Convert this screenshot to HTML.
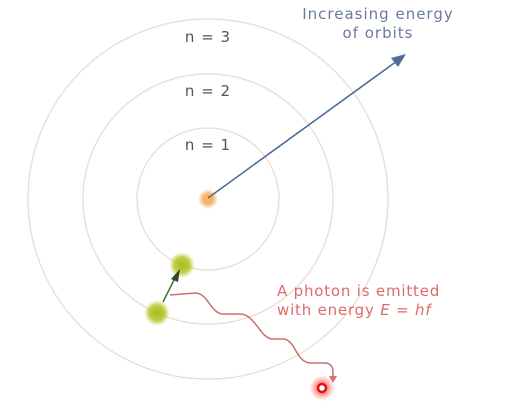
<!DOCTYPE html>
<html><head><meta charset="utf-8"><style>
body{margin:0;background:#fff;width:519px;height:418px;overflow:hidden}
svg{display:block;font-family:"DejaVu Sans","Liberation Sans",sans-serif}
</style></head><body>
<svg width="519" height="418" viewBox="0 0 519 418">
<defs>
<radialGradient id="gn"><stop offset="0" stop-color="#fbb86a"/><stop offset="0.5" stop-color="#f7a14b" stop-opacity="0.8"/><stop offset="1" stop-color="#f7a14b" stop-opacity="0"/></radialGradient>
<radialGradient id="ge"><stop offset="0" stop-color="#a8b81e"/><stop offset="0.6" stop-color="#b5c52a" stop-opacity="0.85"/><stop offset="1" stop-color="#c8d640" stop-opacity="0"/></radialGradient>
<radialGradient id="gp"><stop offset="0" stop-color="#ff3030" stop-opacity="0.9"/><stop offset="0.55" stop-color="#ff5050" stop-opacity="0.5"/><stop offset="1" stop-color="#ff8080" stop-opacity="0"/></radialGradient>
</defs>
<g fill="none" stroke="#f0dacc" stroke-width="1.3">
<circle cx="208" cy="199" r="180"/>
<circle cx="208" cy="199" r="125"/>
<circle cx="208" cy="199" r="71"/>
</g>
<g font-size="15" fill="#555" text-anchor="middle" letter-spacing="1">
<text x="208" y="42">n = 3</text>
<text x="208" y="96">n = 2</text>
<text x="208" y="150">n = 1</text>
</g>
<circle cx="208" cy="199" r="10" fill="url(#gn)"/>
<line x1="208" y1="198" x2="397" y2="61" stroke="#4d6d96" stroke-width="1.6"/>
<polygon points="406,54 391,58 398,67" fill="#4d6d96"/>
<g font-size="15" fill="#6a7a9c" text-anchor="middle" letter-spacing="1">
<text x="378" y="19">Increasing energy</text>
<text x="378" y="38">of orbits</text>
</g>
<circle cx="182" cy="265" r="13" fill="url(#ge)"/>
<circle cx="157" cy="313" r="13" fill="url(#ge)"/>
<line x1="163" y1="302" x2="175" y2="278" stroke="#4f7a3a" stroke-width="1.6"/>
<polygon points="180,269 171,279 178,282" fill="#2f4a22"/>
<path d="M170,295 L195,293 C208,293 210,312 222,314 L240,314 C255,314 260,338 272,339 L284,339 C296,341 296,362 310,363 L326,363 C334,364 333,372 333,378" fill="none" stroke="#c87070" stroke-width="1.5"/>
<polygon points="329,376 337,376 333,383" fill="#e07070"/>
<circle cx="322" cy="388" r="13" fill="url(#gp)"/>
<circle cx="322" cy="388" r="4" fill="#fff" stroke="#e01010" stroke-width="2.5"/>
<g font-size="15" fill="#e06a6a" letter-spacing="0.8">
<text x="277" y="296">A photon is emitted</text>
<text x="277" y="315">with energy <tspan font-style="italic">E</tspan> = <tspan font-style="italic">hf</tspan></text>
</g>
</svg>
</body></html>
